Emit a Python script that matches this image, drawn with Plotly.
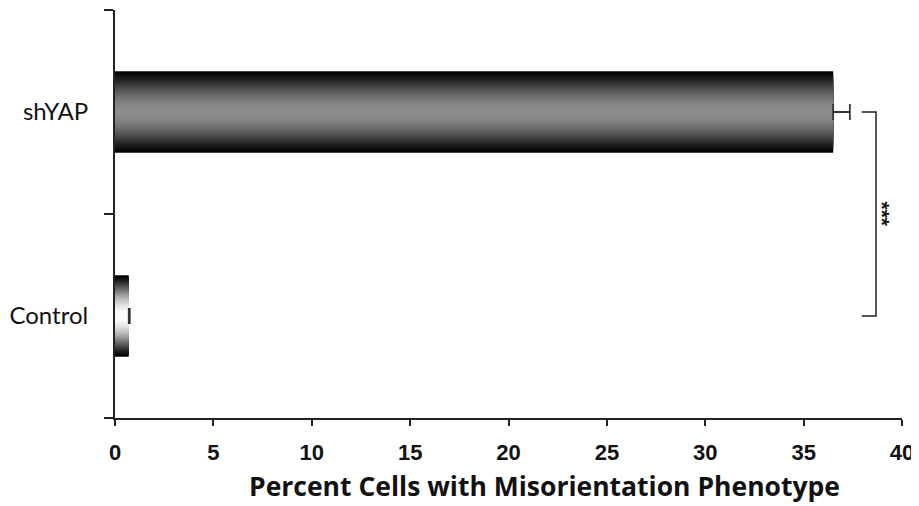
import plotly.graph_objects as go
import numpy as np

categories = ["Control", "shYAP"]
values = [0.7, 36.5]
errors = [0.05, 0.85]
center_colors = [(250, 250, 250), (140, 140, 140)]
edge_color = (5, 5, 5)
x_ticks = [0, 5, 10, 15, 20, 25, 30, 35, 40]
x_title = "Percent Cells with Misorientation Phenotype"
sig_label = "***"

fig = go.Figure()
N = 24
bar_w = 0.4
for k in range(N):
    frac = k / (N - 1)
    w = bar_w * (1 - k / N)
    t = np.sin(frac * np.pi / 2) ** 1.3
    cols = []
    for cc in center_colors:
        r = [int(edge_color[i] + (cc[i] - edge_color[i]) * t) for i in range(3)]
        cols.append(f"rgb({r[0]},{r[1]},{r[2]})")
    tr = dict(x=values, y=categories, orientation="h", width=w,
              marker=dict(color=cols, line=dict(width=0)), showlegend=False,
              hoverinfo="skip")
    if k == N - 1:
        tr["error_x"] = dict(type="data", array=errors, symmetric=False, arrayminus=[0, 0],
                             color="#333333", thickness=1.8, width=8)
    fig.add_trace(go.Bar(**tr))

# significance bracket
top = max(v + e for v, e in zip(values, errors))
bx0 = top + 0.6
bx1 = bx0 + 0.73
fig.add_shape(type="path",
              path=f"M {bx0},1 L {bx1},1 L {bx1},0 L {bx0},0",
              xref="x", yref="y", line=dict(color="#222222", width=1.5))
fig.add_annotation(x=bx1 + 0.33, y=0.5, xref="x", yref="y", text=f"<b>{sig_label}</b>",
                   textangle=90, showarrow=False,
                   font=dict(family="Liberation Sans", size=21, color="#111111"))

# axis title as annotation (offset like the reference)
fig.add_annotation(x=0.546, y=0, xref="paper", yref="paper", yshift=-68,
                   xanchor="center", yanchor="middle", showarrow=False,
                   text=f"<b>{x_title}</b>",
                   font=dict(family="Open Sans", size=26.5, color="#111111"))

fig.update_layout(
    barmode="overlay",
    width=911, height=498,
    margin=dict(l=107, r=17, t=2, b=88),
    plot_bgcolor="white", paper_bgcolor="white",
    xaxis=dict(range=[0, 40], tickvals=x_ticks, ticks="outside", ticklen=6,
               tickwidth=1.5, tickcolor="#222222", showline=True, linewidth=2,
               linecolor="#222222", showgrid=False, zeroline=False, automargin=False,
               ticklabelstandoff=8,
               tickfont=dict(family="Liberation Sans Narrow, Liberation Sans", size=22,
                             color="#111111", weight="bold")),
    yaxis=dict(range=[-0.5, 1.5], categoryorder="array", categoryarray=categories,
               ticks="outside", ticklen=9, tickwidth=1.5, tickcolor="#222222",
               tickson="boundaries", showline=True, linewidth=2, linecolor="#222222",
               showgrid=False, zeroline=False, ticklabelstandoff=20, automargin=False,
               tickfont=dict(family="Lato, Open Sans", size=24, color="#111111")),
)
fig.write_html("out.html")
